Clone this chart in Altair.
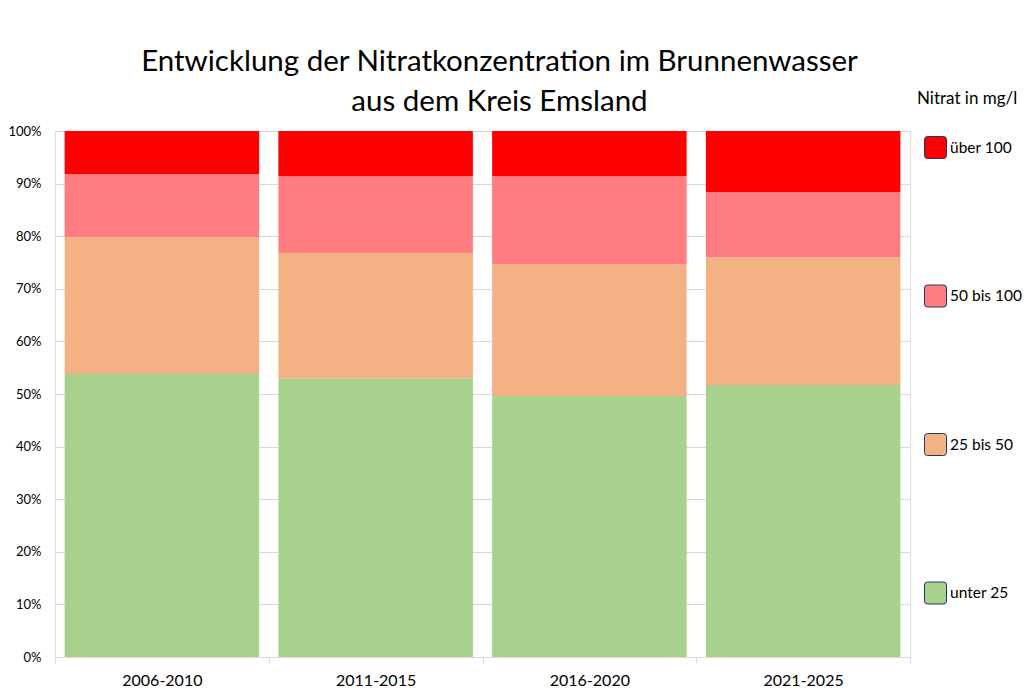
import altair as alt
import pandas as pd

periods = ["2006-2010", "2011-2015", "2016-2020", "2021-2025"]
classes = ["unter 25", "25 bis 50", "50 bis 100", "über 100"]
unter_25 = [53.8, 53.0, 49.6, 51.7]
bis_50 = [26.0, 23.8, 25.1, 24.3]
bis_100 = [12.0, 14.6, 16.7, 12.4]
ueber_100 = [8.2, 8.6, 8.6, 11.6]
bar_colors = ["#A9D18E", "#F4B183", "#FF7C80", "#FF0000"]

series = [unter_25, bis_50, bis_100, ueber_100]
rows = []
for ci, (cls, vals) in enumerate(zip(classes, series)):
    for p, v in zip(periods, vals):
        rows.append({"Zeitraum": p, "Klasse": cls, "Anteil": v, "ord": ci})
df = pd.DataFrame(rows)

FONT = "Lato"
rounded = "M -1 -0.72 Q -1 -1 -0.72 -1 L 0.72 -1 Q 1 -1 1 -0.72 L 1 0.72 Q 1 1 0.72 1 L -0.72 1 Q -1 1 -1 0.72 Z"

x_enc = alt.X("Zeitraum:N", sort=periods, title=None,
              scale=alt.Scale(paddingInner=0, paddingOuter=0),
              axis=alt.Axis(labelAngle=0, tickBand="extent", tickSize=6,
                            domainColor="#D9D9D9", tickColor="#D9D9D9",
                            labelFontSize=16, labelPadding=9, labelColor="#000000",
                            labelFont=FONT, grid=False))
y_enc = alt.Y("Anteil:Q", stack="normalize", title=None,
              scale=alt.Scale(domain=[0, 1], nice=False),
              axis=alt.Axis(format=".0%", values=[i / 10 for i in range(11)],
                            domain=False, ticks=False, labelPadding=14,
                            labelFontSize=13, labelColor="#000000", labelFont=FONT,
                            gridColor="#D9D9D9", gridWidth=1))

chart = alt.Chart(df).mark_bar(width={"band": 0.91}).encode(
    x=x_enc, y=y_enc,
    order=alt.Order("ord:Q", sort="ascending"),
    color=alt.Color("Klasse:N", sort=classes,
                    scale=alt.Scale(domain=classes, range=bar_colors),
                    legend=alt.Legend(
                        title="Nitrat in mg/l", orient="none",
                        legendX=862, legendY=-40,
                        values=classes[::-1],
                        titleFont=FONT, titleFontSize=17, titleFontWeight="normal",
                        titleColor="#000000", titlePadding=28,
                        labelFont=FONT, labelFontSize=15.5, labelColor="#000000",
                        labelOffset=3, labelLimit=0,
                        symbolType=rounded, symbolSize=484, symbolOffset=7,
                        symbolStrokeColor="#1F3864", symbolStrokeWidth=1,
                        symbolOpacity=1, rowPadding=121.5)),
).properties(
    width=855, height=526,
    title=alt.TitleParams(
        text=["Entwicklung der Nitratkonzentration im Brunnenwasser", "aus dem Kreis Emsland"],
        font=FONT, fontSize=29.5, fontWeight="normal", color="#000000",
        lineHeight=40, anchor="middle", dx=17, dy=35, offset=9),
    padding={"left": 47, "top": 123, "right": 117, "bottom": 35},
    autosize=alt.AutoSizeParams(type="none"),
).configure_view(stroke=None).configure(background="#FFFFFF")

chart.save("out.html", embed_options={"renderer": "svg", "actions": False})
